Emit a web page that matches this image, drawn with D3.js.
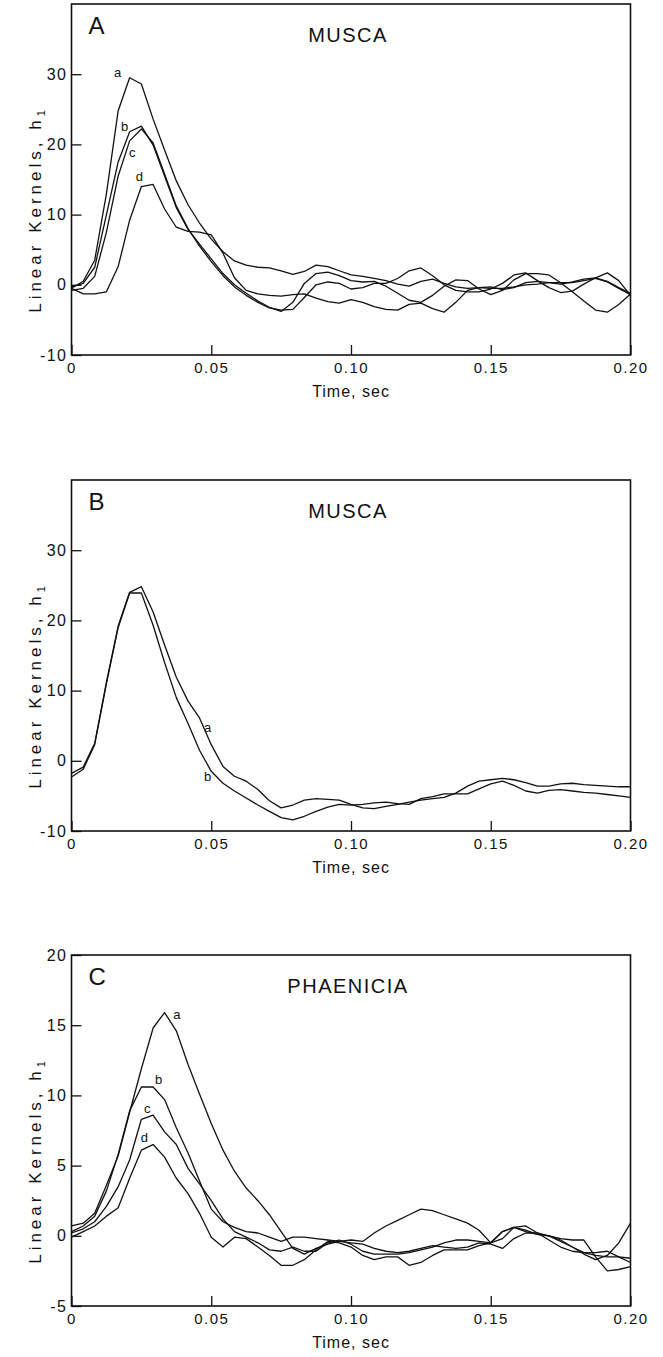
<!DOCTYPE html>
<html>
<head>
<meta charset="utf-8">
<script src="https://cdn.jsdelivr.net/npm/d3@7"></script>
<style>
  body { margin: 0; background: #fff; }
  text { font-family: "Liberation Sans", Arial, sans-serif; fill: #111; }
</style>
</head>
<body>
<div id="chart"></div>
<script>
// sample times (sec), shared by every kernel
const time = [0, 0.0042, 0.0083, 0.0125, 0.0167, 0.0208, 0.025, 0.0292, 0.0333, 0.0375,
  0.0417, 0.0458, 0.05, 0.0542, 0.0583, 0.0625, 0.0667, 0.0708, 0.075, 0.0792,
  0.0833, 0.0875, 0.0917, 0.0958, 0.1, 0.1042, 0.1083, 0.1125, 0.1167, 0.1208,
  0.125, 0.1292, 0.1333, 0.1375, 0.1417, 0.1458, 0.15, 0.1542, 0.1583, 0.1625,
  0.1667, 0.1708, 0.175, 0.1792, 0.1833, 0.1875, 0.1917, 0.1958, 0.2];

// panel A, musca
const muscaA_a = [-0.5, 0.5, 3.5, 13, 24.8, 29.5, 28.6, 23.6, 19.2, 14.8, 11.4, 8.8, 6.5, 4.7, 3.4, 2.8, 2.5, 2.4, 2.0, 1.5,
  1.9, 2.8, 2.6, 2.0, 1.4, 1.2, 0.9, 0.6, 0.1, -0.2, 0.5, 0.8, 0.2, -0.3, -0.5, -0.4, -0.3, -0.7, -0.4, 0.3,
  0.5, 0.3, 0.1, 0.4, 0.8, 1.0, 0.5, -0.4, -1.2];
const muscaA_b = [-0.3, 0.2, 2.5, 10, 17.5, 21.8, 22.6, 19.9, 15.5, 11, 7.9, 5.8, 3.7, 1.6, 0, -1.2, -2.3, -3.2, -3.8, -2.5,
  0.2, 1.6, 1.8, 1.3, 0.6, 0.4, 0.5, -0.2, -1.2, -2.2, -2.5, -1.5, -0.2, 0.7, 0.6, -0.6, -1.4, -0.8, 0.7, 1.6,
  1.6, 1.4, 0.3, -1.0, -2.3, -3.6, -3.9, -2.8, -1.3];
const muscaA_c = [-0.8, -0.5, 1.2, 7.5, 15.5, 20.5, 22.2, 20.2, 15.8, 11.2, 8.0, 5.5, 3.3, 1.3, -0.3, -1.5, -2.5, -3.3, -3.6, -3.5,
  -1.8, 0, 0.4, 0.2, -0.6, -0.4, 0.2, 0.2, 0.9, 2.0, 2.4, 1.3, 0, -0.8, -1.0, -1.0, -0.6, 0.2, 1.4, 1.7,
  0.6, -0.4, -1.1, -0.9, 0.1, 1.0, 1.7, 0.6, -1.5];
const muscaA_d = [-0.5, -1.3, -1.3, -1.0, 2.6, 9.2, 14.0, 14.3, 10.8, 8.2, 7.6, 7.5, 7.1, 4.5, 1.0, -0.8, -1.3, -1.5, -1.6, -1.4,
  -1.3, -1.9, -2.4, -2.6, -2.1, -2.5, -3.1, -3.5, -3.6, -2.8, -2.6, -3.4, -3.9, -2.5, -0.8, -0.4, -0.5, -0.5, -0.3, 0,
  0.1, 0.3, 0.3, 0.3, 0.6, 0.9, 0.4, -0.5, -1.4];

// panel B, musca
const muscaB_a = [-1.8, -0.9, 2.5, 11.2, 19.2, 24, 24.8, 21.2, 16.5, 11.9, 8.5, 6.1, 2.3, -0.8, -2.2, -2.9, -4.1, -5.7, -6.7, -6.3,
  -5.6, -5.4, -5.5, -5.6, -6.2, -6.7, -6.8, -6.5, -6.2, -5.9, -5.6, -5.4, -5.2, -4.6, -3.6, -2.9, -2.7, -2.5, -2.7, -3.1,
  -3.6, -3.6, -3.3, -3.2, -3.4, -3.5, -3.6, -3.7, -3.7];
const muscaB_b = [-2.3, -1.2, 2.3, 11, 19, 23.9, 23.9, 19.3, 14, 9, 5.3, 1.5, -1.5, -3.2, -4.3, -5.3, -6.3, -7.2, -8.1, -8.4,
  -7.9, -7.2, -6.6, -6.2, -6.3, -6.2, -6.0, -5.9, -6.1, -6.2, -5.4, -5.1, -4.7, -4.7, -4.7, -4.0, -3.3, -2.9, -3.5, -4.3,
  -4.6, -4.2, -4.1, -4.3, -4.5, -4.6, -4.8, -5.0, -5.2];

// panel C, phaenicia
const phaeniciaC_a = [0.7, 0.9, 1.6, 3.6, 5.7, 8.8, 11.9, 14.8, 15.9, 14.6, 12.2, 10.1, 8.0, 6.1, 4.6, 3.4, 2.5, 1.5, 0.3, -0.9,
  -1.3, -0.9, -0.6, -0.4, -0.3, -0.4, 0.2, 0.7, 1.1, 1.5, 1.9, 1.8, 1.5, 1.2, 0.9, 0.4, -0.5, -0.2, 0.6, 0.4,
  0.1, 0, -0.4, -0.8, -1.3, -1.7, -1.4, -0.5, 0.9];
const phaeniciaC_b = [0.3, 0.7, 1.4, 3.2, 5.8, 8.9, 10.6, 10.6, 9.7, 7.7, 5.9, 3.9, 1.9, 1.0, 0.6, 0.3, 0.2, -0.1, -0.4, -0.1,
  -0.1, -0.2, -0.3, -0.4, -0.5, -0.6, -0.9, -1.1, -1.2, -1.1, -0.9, -0.7, -0.8, -0.9, -0.8, -0.5, -0.6, -0.9, -0.2, 0.2,
  0.2, 0, -0.3, -0.8, -1.2, -1.4, -1.5, -1.5, -1.6];
const phaeniciaC_c = [0.2, 0.5, 1.0, 2.1, 3.5, 5.4, 8.3, 8.6, 7.4, 6.5, 4.8, 3.7, 2.5, 1.2, 0.3, -0.1, -0.5, -1.0, -1.1, -0.8,
  -1.1, -1.1, -0.5, -0.3, -0.6, -1.1, -1.3, -1.3, -1.3, -1.2, -1.0, -0.8, -0.5, -0.3, -0.3, -0.4, -0.5, 0.3, 0.6, 0.7,
  0.2, -0.3, -0.8, -1.1, -1.2, -1.2, -1.1, -1.5, -1.9];
const phaeniciaC_d = [-0.1, 0.3, 0.7, 1.4, 2.0, 4.1, 6.1, 6.5, 5.6, 4.1, 3.0, 1.6, -0.1, -0.8, -0.1, -0.2, -0.8, -1.4, -2.1, -2.1,
  -1.7, -1.0, -0.4, -0.5, -0.8, -1.4, -1.7, -1.5, -1.5, -2.1, -1.9, -1.4, -1.0, -1.0, -1.0, -0.7, -0.5, 0.3, 0.6, 0.3,
  0.1, 0, -0.2, -0.3, -0.3, -1.5, -2.5, -2.4, -2.2];

// curve letters: [letter, time, value]
const labelsA = [["a", 0.0165, 30.3], ["b", 0.0190, 22.6], ["c", 0.0217, 18.9], ["d", 0.0243, 15.4]];
const labelsB = [["a", 0.0487, 4.7], ["b", 0.0487, -2.2]];
const labelsC = [["a", 0.0377, 15.75], ["b", 0.0312, 11.1], ["c", 0.0271, 9.1], ["d", 0.0261, 7.0]];

const xTicks = [0, 0.05, 0.10, 0.15, 0.20];
const yTicksMusca = [-10, 0, 10, 20, 30];
const yTicksPhaenicia = [-5, 0, 5, 10, 15, 20];

const panels = [
  { letter: "A", title: "MUSCA", top: 4, yDomain: [-10, 40], yTicks: yTicksMusca,
    series: [muscaA_a, muscaA_b, muscaA_c, muscaA_d], labels: labelsA },
  { letter: "B", title: "MUSCA", top: 480, yDomain: [-10, 40], yTicks: yTicksMusca,
    series: [muscaB_a, muscaB_b], labels: labelsB },
  { letter: "C", title: "PHAENICIA", top: 955, yDomain: [-5, 20], yTicks: yTicksPhaenicia,
    series: [phaeniciaC_a, phaeniciaC_b, phaeniciaC_c, phaeniciaC_d], labels: labelsC }
];

const W = 663, H = 1357;
const left = 71.5, width = 559, height = 351;

const svg = d3.select("#chart").append("svg")
  .attr("width", W)
  .attr("height", H);

const x = d3.scaleLinear().domain([0, 0.2]).range([0, width]);

panels.forEach(p => {
  const g = svg.append("g").attr("transform", "translate(" + left + "," + p.top + ")");
  const y = d3.scaleLinear().domain(p.yDomain).range([height, 0]);

  // axes, ticks point inward
  const yAxis = d3.axisLeft(y).tickValues(p.yTicks).tickSize(-10).tickPadding(4)
    .tickFormat(d => String(d));
  const xAxis = d3.axisBottom(x).tickValues(xTicks).tickSize(-10).tickPadding(7)
    .tickFormat(d => d === 0 ? "0" : d.toFixed(2));

  const ya = g.append("g").call(yAxis);
  ya.select(".domain").remove();
  ya.selectAll("line").attr("stroke", "#111").attr("stroke-width", 1.3);
  ya.selectAll("text").style("font-size", "16px").style("letter-spacing", "1.5px").attr("fill", "#111");

  const xa = g.append("g").attr("transform", "translate(0," + height + ")").call(xAxis);
  xa.select(".domain").remove();
  xa.selectAll("line").attr("stroke", "#111").attr("stroke-width", 1.3);
  xa.selectAll("text").style("font-size", "15px").style("letter-spacing", "1.5px").attr("fill", "#111");

  // frame
  g.append("rect")
    .attr("width", width).attr("height", height)
    .attr("fill", "none").attr("stroke", "#111").attr("stroke-width", 1.6);

  // kernels
  const line = d3.line().x((d, i) => x(time[i])).y(d => y(d));
  g.selectAll("path.kernel").data(p.series).enter().append("path")
    .attr("class", "kernel")
    .attr("d", line)
    .attr("fill", "none")
    .attr("stroke", "#111")
    .attr("stroke-width", 1.3)
    .attr("stroke-linejoin", "round");

  // curve letters
  g.selectAll("text.lab").data(p.labels).enter().append("text")
    .attr("class", "lab")
    .attr("x", d => x(d[1]))
    .attr("y", d => y(d[2]))
    .attr("text-anchor", "middle")
    .attr("dominant-baseline", "central")
    .style("font-size", "13px")
    .text(d => d[0]);

  // panel letter and title
  g.append("text")
    .attr("x", 17).attr("y", 30)
    .style("font-size", "24px")
    .text(p.letter);
  g.append("text")
    .attr("x", width / 2 - 3).attr("y", 38)
    .attr("text-anchor", "middle")
    .style("font-size", "20px")
    .style("letter-spacing", "1.5px")
    .text(p.title);

  // axis titles
  const yl = g.append("text")
    .attr("transform", "translate(-31," + (height / 2 + 30) + ") rotate(-90)")
    .attr("text-anchor", "middle")
    .style("font-size", "17px")
    .style("letter-spacing", "4px");
  yl.append("tspan").text("Linear Kernels, h");
  yl.append("tspan").attr("dy", 4).style("font-size", "11px").text("1");

  g.append("text")
    .attr("x", width / 2).attr("y", height + 42)
    .attr("text-anchor", "middle")
    .style("font-size", "16px")
    .style("letter-spacing", "1px")
    .text("Time, sec");
});
</script>
</body>
</html>
